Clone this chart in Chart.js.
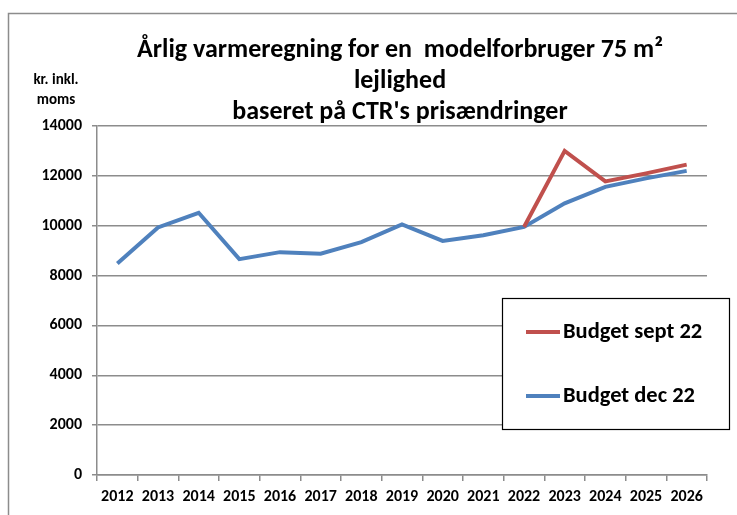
<!DOCTYPE html>
<html><head><meta charset="utf-8">
<script src="https://cdn.jsdelivr.net/npm/chart.js@4"></script>
<style>html,body{margin:0;padding:0;background:#fff;overflow:hidden}</style>
</head><body>
<canvas id="c" width="737" height="515"></canvas>
<script>
const years = ['2012','2013','2014','2015','2016','2017','2018','2019','2020','2021','2022','2023','2024','2025','2026'];
const budgetSept22 = [null,null,null,null,null,null,null,null,null,null,9950,13000,11780,12100,12450];
const budgetDec22 = [8480,9930,10520,8660,8940,8880,9340,10050,9390,9620,9950,10900,11560,11900,12200];
const yTickValues = [0,2000,4000,6000,8000,10000,12000,14000];
const titleLines = ['Årlig varmeregning for en  modelforbruger 75 m²','lejlighed','baseret på CTR\'s prisændringer'];
const yAxisLabel = ['kr. inkl.','moms'];
const seriesLabels = ['Budget sept 22','Budget dec 22'];

const FONT = "Carlito, 'Liberation Sans Narrow', 'Open Sans', sans-serif";
const GRID = '#8c8c8c';

const decor = {
  id: 'decor',
  beforeDraw(chart) {
    const ctx = chart.ctx;
    ctx.save();
    ctx.fillStyle = '#fff';
    ctx.fillRect(0, 0, chart.width, chart.height);
    ctx.strokeStyle = '#8c8c8c';
    ctx.lineWidth = 1.5;
    ctx.strokeRect(8.5, 13.5, chart.width + 20, chart.height + 20);
    ctx.restore();
  },
  afterDraw(chart) {
    const ctx = chart.ctx;
    ctx.save();
    ctx.fillStyle = '#000';
    ctx.textAlign = 'center';
    ctx.textBaseline = 'middle';
    ctx.font = 'bold 26px ' + FONT;
    const ty = [50, 81, 112];
    titleLines.forEach((t, i) => ctx.fillText(t, 400, ty[i]));
    ctx.font = 'bold 15px ' + FONT;
    ctx.fillText(yAxisLabel[0], 56, 80);
    ctx.fillText(yAxisLabel[1], 56, 100);
    // legend box
    const bx = 502, by = 298, bw = 227, bh = 131;
    ctx.strokeStyle = '#000';
    ctx.lineWidth = 1.2;
    ctx.fillStyle = '#fff';
    ctx.fillRect(bx, by, bw, bh);
    ctx.strokeRect(bx + 0.5, by + 0.5, bw, bh);
    const ly = [332, 396];
    chart.data.datasets.forEach((ds, i) => {
      ctx.strokeStyle = ds.borderColor;
      ctx.lineWidth = 4;
      ctx.beginPath();
      ctx.moveTo(526, ly[i]);
      ctx.lineTo(560, ly[i]);
      ctx.stroke();
      ctx.fillStyle = '#000';
      ctx.textAlign = 'left';
      ctx.font = 'bold 22.5px ' + FONT;
      ctx.fillText(ds.label, 563, ly[i]);
    });
    ctx.restore();
  }
};

new Chart(document.getElementById('c'), {
  type: 'line',
  data: {
    labels: years,
    datasets: [
      { label: seriesLabels[0], data: budgetSept22, borderColor: '#C0504D', backgroundColor: '#C0504D', borderWidth: 4, pointRadius: 0, tension: 0, spanGaps: false },
      { label: seriesLabels[1], data: budgetDec22, borderColor: '#4F81BD', backgroundColor: '#4F81BD', borderWidth: 4, pointRadius: 0, tension: 0 }
    ]
  },
  options: {
    responsive: false,
    animation: false,
    devicePixelRatio: 1,
    layout: { padding: { top: 126, right: 30, left: 0, bottom: 0 } },
    plugins: { legend: { display: false }, title: { display: false }, tooltip: { enabled: false } },
    scales: {
      x: {
        offset: true,
        grid: { offset: true, drawOnChartArea: false, drawTicks: true, tickLength: 6, color: GRID, lineWidth: 1.5 },
        border: { display: true, color: GRID, width: 1.5 },
        ticks: { color: '#000', font: { family: FONT, size: 16, weight: 'bold' }, padding: 6, maxRotation: 0, autoSkip: false },
        afterFit(s) { s.height = 40; }
      },
      y: {
        min: 0, max: 14000,
        afterBuildTicks(s) { s.ticks = yTickValues.map(v => ({ value: v })); },
        grid: { color: GRID, lineWidth: 1.5, tickLength: 5 },
        border: { display: true, color: GRID, width: 1.5 },
        ticks: { color: '#000', font: { family: FONT, size: 16, weight: 'bold' }, padding: 10, callback: v => String(v) },
        afterFit(s) { s.width = 97; }
      }
    }
  },
  plugins: [decor]
});
</script>
</body></html>
